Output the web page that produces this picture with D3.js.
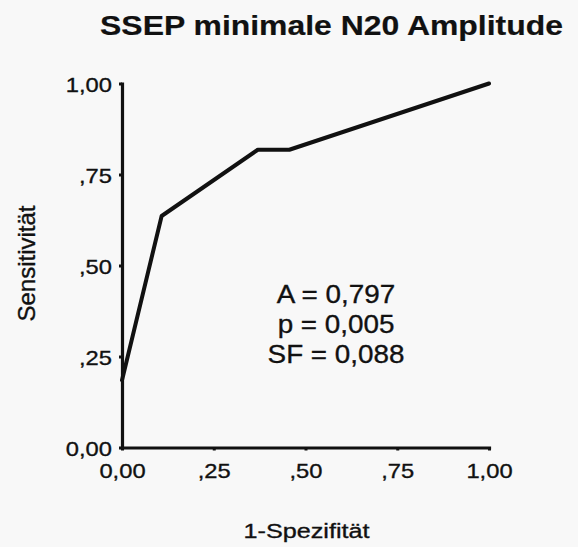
<!DOCTYPE html>
<html>
<head>
<meta charset="utf-8">
<script src="https://cdn.jsdelivr.net/npm/d3@7"></script>
<style>
  html, body { margin: 0; padding: 0; background: #f8f8f8; }
  svg { display: block; }
  text { font-family: "Liberation Sans", Arial, Helvetica, sans-serif; fill: #111; stroke: #111; stroke-width: 0.35px; }
</style>
</head>
<body>
<svg id="chart" width="578" height="547"></svg>
<script>
// ROC curve: 1 - specificity vs. sensitivity
const fpr = [0, 0.108, 0.37, 0.456, 1.0];
const tpr = [0.185, 0.636, 0.818, 0.818, 1.0];

const xTicks = [0, 0.25, 0.5, 0.75, 1];
const xTickLabels = ["0,00", ",25", ",50", ",75", "1,00"];
const yTicks = [0, 0.25, 0.5, 0.75, 1];
const yTickLabels = ["0,00", ",25", ",50", ",75", "1,00"];

const title = "SSEP minimale N20 Amplitude";
const xTitle = "1-Spezifität";
const yTitle = "Sensitivität";
const statLines = ["A = 0,797", "p = 0,005", "SF = 0,088"];

const svg = d3.select("#chart");

const x = d3.scaleLinear().domain([0, 1]).range([122, 489]);
const y = d3.scaleLinear().domain([0, 1]).range([447.5, 83.5]);

// Axes
const yAxis = d3.axisLeft(y)
  .tickValues(yTicks)
  .tickFormat((d, i) => yTickLabels[i])
  .tickSize(3)
  .tickSizeOuter(0);
const xAxis = d3.axisBottom(x)
  .tickValues(xTicks)
  .tickFormat((d, i) => xTickLabels[i])
  .tickSize(3)
  .tickSizeOuter(0);

const gy = svg.append("g").attr("transform", `translate(${x(0)},0)`).call(yAxis);
const gx = svg.append("g").attr("transform", `translate(0,${y(0)})`).call(xAxis);

[gx, gy].forEach(g => {
  g.select(".domain").attr("stroke", "#111").attr("stroke-width", 3.2).attr("stroke-linecap", "square");
  g.selectAll(".tick line").attr("stroke", "#111").attr("stroke-width", 3);
});

gy.selectAll(".tick text")
  .attr("x", 0).attr("dy", null).attr("y", 0)
  .attr("transform", "translate(-10,7.5) scale(1.13,1)")
  .attr("text-anchor", "end")
  .style("font-size", "21px");

gx.selectAll(".tick text")
  .attr("x", 0).attr("dy", null).attr("y", 0)
  .attr("transform", "translate(0,30.5) scale(1.13,1)")
  .attr("text-anchor", "middle")
  .style("font-size", "21px");

// ROC line
const line = d3.line().x((d, i) => x(fpr[i])).y((d, i) => y(tpr[i]));
svg.append("path")
  .attr("d", line(fpr))
  .attr("fill", "none")
  .attr("stroke", "#111")
  .attr("stroke-width", 4)
  .attr("stroke-linejoin", "round")
  .attr("stroke-linecap", "round");

// Title
svg.append("text")
  .attr("transform", "translate(331.5,35) scale(1.14,1)")
  .attr("text-anchor", "middle")
  .style("font-size", "28px")
  .style("font-weight", "bold")
  .style("stroke-width", "0.2px")
  .text(title);

// Axis titles
svg.append("text")
  .attr("transform", "translate(306.5,537.5) scale(1.2,1)")
  .attr("text-anchor", "middle")
  .style("font-size", "21px")
  .text(xTitle);

svg.append("text")
  .attr("transform", "translate(35,263.5) rotate(-90)")
  .attr("text-anchor", "middle")
  .style("font-size", "24px")
  .text(yTitle);

// Statistics block
svg.append("g").selectAll("text")
  .data(statLines)
  .join("text")
  .attr("transform", (d, i) => `translate(336,${302.5 + i * 30}) scale(1.05,1)`)
  .attr("text-anchor", "middle")
  .style("font-size", "26.5px")
  .text(d => d);
</script>
</body>
</html>
